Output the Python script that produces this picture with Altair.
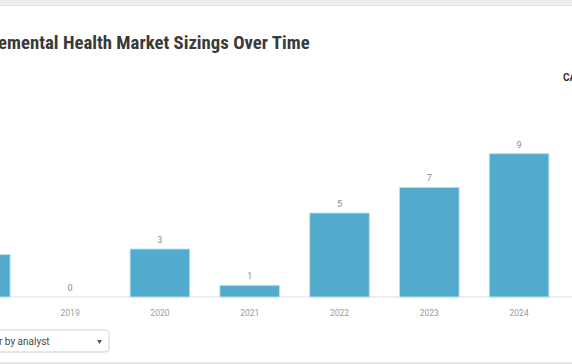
import altair as alt
import pandas as pd

# ---- data ----
years = ["2018", "2019", "2020", "2021", "2022", "2023", "2024"]
sizings = [2.65, 0, 3.0, 0.73, 5.25, 6.85, 8.96]

title_text = "Telemental Health Market Sizings Over Time"
side_text = "CAGR"
filter_text = "Filter by analyst"

W, H = 572, 364
BAR = "#52abcd"
FONT = "Roboto"
TITLE_FONT = "Roboto Condensed, Liberation Sans Narrow, DejaVu Sans Condensed, Roboto"

df = pd.DataFrame({"year": years, "value": sizings})

xs = alt.Scale(domain=years, range=[-64.6, 564], paddingInner=0.336, paddingOuter=0.168)
ys = alt.Scale(domain=[0, 9], range=[297, 153], zero=True, nice=False)

X = alt.X("year:O", scale=xs, axis=None)
Y = alt.Y("value:Q", scale=ys, axis=None)

one = pd.DataFrame({"k": [0]})

# top grey band of the page
band = alt.Chart(one).mark_rect(
    color=alt.Gradient(gradient="linear",
                       stops=[alt.GradientStop(color="#e7ebee", offset=0),
                              alt.GradientStop(color="#eff2f4", offset=1)],
                       x1=0, x2=0, y1=0, y2=1)
).encode(x=alt.value(0), x2=alt.value(W), y=alt.value(0), y2=alt.value(5))
band_line = alt.Chart(one).mark_rule(color="#dce1e5", strokeWidth=1).encode(
    x=alt.value(0), x2=alt.value(W), y=alt.value(5.5))
bottom_line = alt.Chart(one).mark_rule(color="#e4e7ea", strokeWidth=2).encode(
    x=alt.value(0), x2=alt.value(W), y=alt.value(363))

title = alt.Chart(pd.DataFrame({"t": [title_text]})).mark_text(
    align="left", baseline="alphabetic", font=TITLE_FONT, fontSize=18.8,
    fontWeight="bold", color="#3a3a3a"
).encode(x=alt.value(-25), y=alt.value(48.5), text="t:N")

side = alt.Chart(pd.DataFrame({"t": [side_text]})).mark_text(
    align="left", baseline="middle", font=FONT, fontSize=10,
    fontWeight="bold", color="#333333"
).encode(x=alt.value(563), y=alt.value(78), text="t:N")

baseline = alt.Chart(pd.DataFrame({"v": [0]})).mark_rule(
    color="#eeeeee", strokeWidth=2
).encode(x=alt.value(0), x2=alt.value(W), y=alt.Y("v:Q", scale=ys, axis=None))

bars = alt.Chart(df).transform_filter("datum.value > 0").mark_bar(
    color=BAR, stroke="#b9e0f0", strokeWidth=1
).encode(x=X, y=Y)

labels = alt.Chart(df).mark_text(
    baseline="bottom", dy=-4, font=FONT, fontSize=9, color="#8a8a8a"
).encode(x=X, y=Y, text=alt.Text("value:Q", format=".0f"))

xlabels = alt.Chart(df).mark_text(
    baseline="middle", font=FONT, fontSize=8.5, color="#9a9a9a"
).encode(x=X, y=alt.value(312.5), text="year:N")

box = alt.Chart(one).mark_rect(
    fill="white", stroke="#cfcfcf", strokeWidth=1, cornerRadius=4
).encode(x=alt.value(-10), x2=alt.value(109), y=alt.value(330), y2=alt.value(352))

ftxt = alt.Chart(pd.DataFrame({"t": [filter_text]})).mark_text(
    align="left", baseline="middle", font=FONT, fontSize=10, color="#4a4a4a"
).encode(x=alt.value(-20), y=alt.value(342), text="t:N")

caret = alt.Chart(one).mark_point(
    shape="triangle-down", filled=True, size=24, color="#555555", opacity=1
).encode(x=alt.value(99.5), y=alt.value(342))

chart = alt.layer(
    band, band_line, bottom_line, title, side, baseline, bars, labels, xlabels,
    box, ftxt, caret
).properties(
    width=W, height=H, autosize=alt.AutoSizeParams(type="none"), padding=0,
    background="white"
).configure_view(stroke=None)

chart.save("out.html", embed_options={"renderer": "svg", "actions": False})
